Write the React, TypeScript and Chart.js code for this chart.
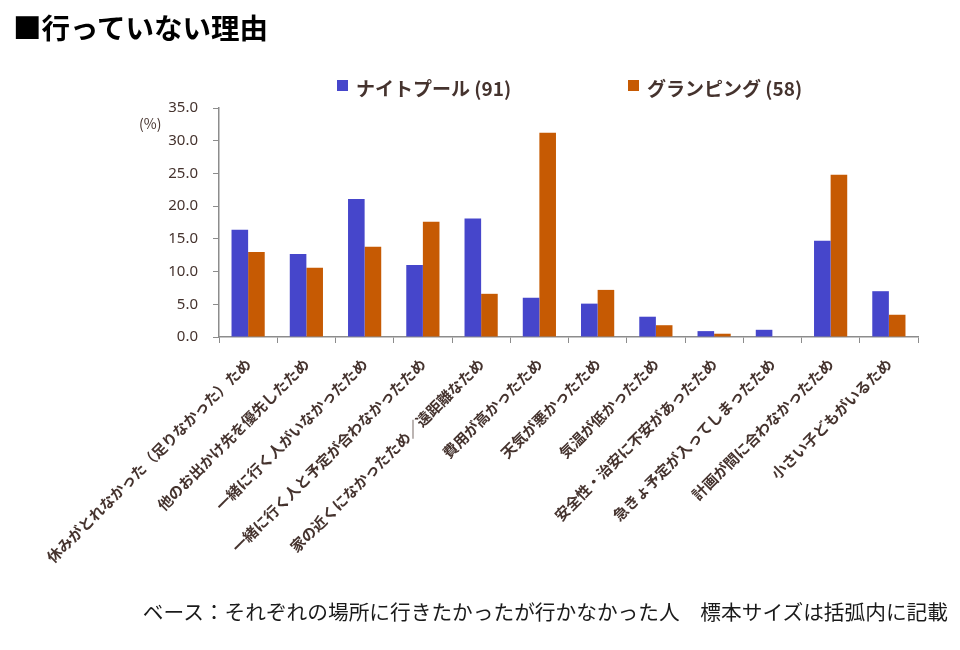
import React, { useEffect, useRef } from "react";
import { Chart, registerables } from "chart.js";

Chart.register(...registerables);

const categories: string[] = [
  "休みがとれなかった（足りなかった）ため",
  "他のお出かけ先を優先したため",
  "一緒に行く人がいなかったため",
  "一緒に行く人と予定が合わなかったため",
  "家の近くになかったため／遠距離なため",
  "費用が高かったため",
  "天気が悪かったため",
  "気温が低かったため",
  "安全性・治安に不安があったため",
  "急きょ予定が入ってしまったため",
  "計画が間に合わなかったため",
  "小さい子どもがいるため",
];

const nightPool: number[] = [16.4, 12.7, 21.1, 11.0, 18.1, 6.0, 5.1, 3.1, 0.9, 1.1, 14.7, 7.0];
const glamping: number[] = [13.0, 10.6, 13.8, 17.6, 6.6, 31.2, 7.2, 1.8, 0.5, 0.0, 24.8, 3.4];

const seriesNames: string[] = ["ナイトプール (91)", "グランピング (58)"];
const seriesColors: string[] = ["#4646CB", "#C65A03"];

const yTicks: number[] = [0, 5, 10, 15, 20, 25, 30, 35];

const titleText = "■行っていない理由";
const unitText = "(%)";
const footerText = "ベース：それぞれの場所に行きたかったが行かなかった人　標本サイズは括弧内に記載";

const textColor = "#45332E";
const axisColor = "#8C8C8C";
const jpFont = "'Noto Sans CJK JP', 'Noto Sans', sans-serif";

export default function App() {
  const canvasRef = useRef<HTMLCanvasElement | null>(null);

  useEffect(() => {
    const canvas = canvasRef.current;
    if (!canvas) return;
    const chart = new Chart(canvas, {
      type: "bar",
      data: {
        labels: categories,
        datasets: [
          {
            label: seriesNames[0],
            data: nightPool,
            backgroundColor: seriesColors[0],
            categoryPercentage: 0.57,
            barPercentage: 1.0,
          },
          {
            label: seriesNames[1],
            data: glamping,
            backgroundColor: seriesColors[1],
            categoryPercentage: 0.57,
            barPercentage: 1.0,
          },
        ],
      },
      options: {
        responsive: false,
        animation: false,
        layout: { padding: { left: 0, top: 108, right: 42, bottom: 0 } },
        plugins: {
          legend: { display: false },
          tooltip: { enabled: false },
          title: { display: false },
        },
        scales: {
          x: {
            grid: {
              offset: true,
              drawOnChartArea: false,
              drawTicks: true,
              tickLength: 6,
              color: axisColor,
            },
            border: { display: true, color: axisColor, width: 1.5 },
            ticks: {
              autoSkip: false,
              maxRotation: 45,
              minRotation: 45,
              padding: 12,
              color: textColor,
              font: { family: jpFont, size: 14.8, weight: "bold" },
            },
            afterFit: (scale: any) => {
              scale.height = 313;
            },
          },
          y: {
            min: 0,
            max: 35,
            afterBuildTicks: (scale: any) => {
              scale.ticks = yTicks.map((v) => ({ value: v }));
            },
            grid: {
              drawOnChartArea: false,
              drawTicks: true,
              tickLength: 6,
              color: axisColor,
            },
            border: { display: true, color: axisColor, width: 1.5 },
            ticks: {
              padding: 15,
              color: textColor,
              font: { family: "'Noto Sans', sans-serif", size: 15 },
              callback: (v: any) => Number(v).toFixed(1),
            },
            afterFit: (scale: any) => {
              scale.width = 219;
            },
          },
        },
      },
    });
    return () => chart.destroy();
  }, []);

  const legendItem = (i: number, left: number) => (
    <div
      key={i}
      style={{
        position: "absolute",
        left,
        top: 74,
        display: "flex",
        alignItems: "center",
        fontFamily: jpFont,
        fontWeight: "bold",
        fontSize: 19,
        color: textColor,
        whiteSpace: "nowrap",
        lineHeight: "28px",
      }}
    >
      <span
        style={{
          display: "inline-block",
          width: 11,
          height: 11,
          background: seriesColors[i],
          marginRight: 8,
          marginTop: -6,
        }}
      />
      <span>{seriesNames[i]}</span>
    </div>
  );

  return (
    <div
      style={{
        position: "absolute",
        left: 0,
        top: 0,
        width: 960,
        height: 650,
        background: "#FFFFFF",
        overflow: "hidden",
      }}
    >
      <canvas ref={canvasRef} width={960} height={650} style={{ display: "block" }} />
      <div
        style={{
          position: "absolute",
          left: 13,
          top: 7,
          fontFamily: jpFont,
          fontWeight: "bold",
          fontSize: 28.5,
          color: "#000000",
          whiteSpace: "nowrap",
          lineHeight: "40px",
        }}
      >
        {titleText}
      </div>
      {legendItem(0, 337)}
      {legendItem(1, 628)}
      <div
        style={{
          position: "absolute",
          left: 139,
          top: 114,
          fontFamily: jpFont,
          fontSize: 14,
          color: textColor,
          whiteSpace: "nowrap",
          lineHeight: "18px",
        }}
      >
        {unitText}
      </div>
      <div
        style={{
          position: "absolute",
          right: 12,
          top: 597,
          fontFamily: jpFont,
          fontSize: 20.7,
          color: "#1A1A1A",
          whiteSpace: "nowrap",
          lineHeight: "28px",
        }}
      >
        {footerText}
      </div>
    </div>
  );
}
